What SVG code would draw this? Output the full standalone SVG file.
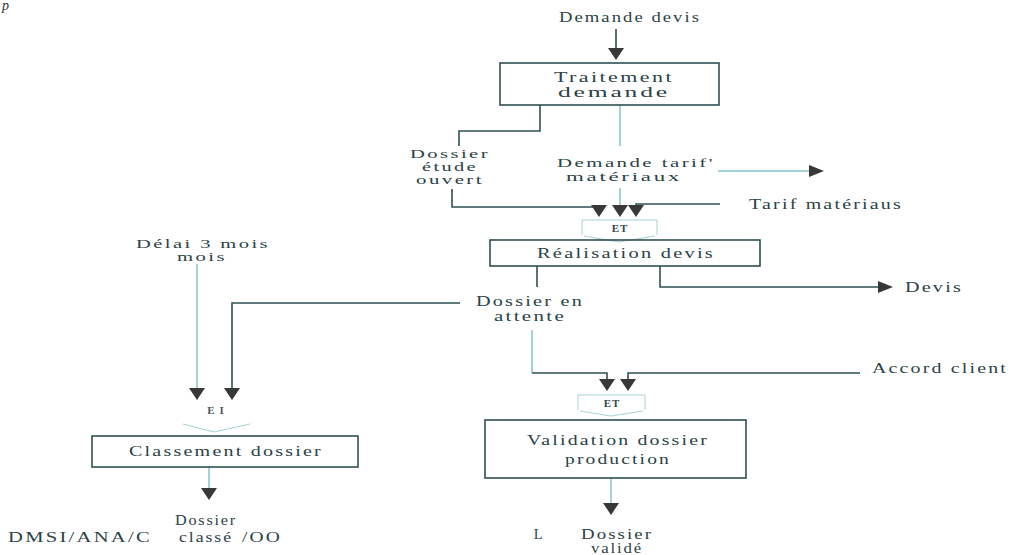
<svg xmlns="http://www.w3.org/2000/svg" width="1012" height="555" viewBox="0 0 1012 555">
  <style>
    .t { font-family: "Liberation Serif", "Times New Roman", serif; font-size: 14.5px; letter-spacing: 1.6px; fill: #2a4246; text-anchor: middle; }
    .s { font-size: 13.5px; }
    .box { fill: none; stroke: #2f5052; stroke-width: 1.6; }
    .et { fill: none; stroke: #a9d0d3; stroke-width: 1; }
    .etl { font-family: "Liberation Serif", serif; font-size: 11px; font-weight: bold; fill: #33484c; text-anchor: middle; letter-spacing: 1px; }
    .ln { fill: none; stroke: #2f5052; stroke-width: 1.6; }
    .lt { fill: none; stroke: #86c4c7; stroke-width: 1.5; }
    .ah { fill: #383838; }
  </style>
  <defs>
    <path id="arrowDown" d="M-8,-12 L8,-12 L0,0 Z" class="ah"/>
    <path id="arrowRight" d="M-15,-6 L0,0 L-15,6 Z" class="ah"/>
  </defs>

  <text x="2" y="10" style="font-family:'Liberation Serif',serif;font-size:14px;font-style:italic;fill:#333">p</text>

  <g id="connectors">
    <!-- Demande devis to Traitement demande -->
    <line class="ln" x1="616" y1="29" x2="616" y2="48"/>
    <use href="#arrowDown" x="616" y="60"/>
    <!-- Traitement demande outputs -->
    <polyline class="ln" points="540,105 540,131 459,131 459,146"/>
    <line class="lt" x1="620" y1="105" x2="620" y2="146"/>
    <!-- Dossier étude ouvert into ET -->
    <polyline class="ln" points="452,189 452,207 599,207"/>
    <use href="#arrowDown" x="599" y="217"/>
    <!-- Demande tarif matériaux into ET -->
    <line class="lt" x1="620" y1="188" x2="620" y2="206"/>
    <use href="#arrowDown" x="620" y="217"/>
    <!-- Demande tarif matériaux outward -->
    <line class="lt" x1="718" y1="171" x2="810" y2="171"/>
    <use href="#arrowRight" x="824" y="171"/>
    <!-- Tarif matériaux into ET -->
    <polyline class="ln" points="720,204 636,204 636,206"/>
    <use href="#arrowDown" x="636" y="217"/>
    <!-- Réalisation devis outputs -->
    <line class="ln" x1="537" y1="266" x2="537" y2="287"/>
    <polyline class="ln" points="660,266 660,287 880,287"/>
    <use href="#arrowRight" x="893" y="287"/>
    <!-- Dossier en attente into ET (validation) -->
    <polyline class="lt" points="532,330 532,373"/>
    <polyline class="ln" points="532,373 607,373 607,380"/>
    <use href="#arrowDown" x="607" y="391"/>
    <!-- Accord client into ET (validation) -->
    <polyline class="ln" points="860,373 628,373 628,380"/>
    <use href="#arrowDown" x="628" y="391"/>
    <!-- Dossier en attente into classement -->
    <polyline class="ln" points="460,303 232,303 232,388"/>
    <use href="#arrowDown" x="232" y="400"/>
    <!-- Délai 3 mois into classement -->
    <line class="lt" x1="197" y1="264" x2="197" y2="388"/>
    <use href="#arrowDown" x="197" y="400"/>
    <!-- Classement dossier output -->
    <line class="lt" x1="209" y1="467" x2="209" y2="488"/>
    <use href="#arrowDown" x="209" y="500"/>
    <!-- Validation dossier production output -->
    <line class="lt" x1="611" y1="479" x2="611" y2="503"/>
    <use href="#arrowDown" x="611" y="515"/>
  </g>

  <g id="demande-devis">
    <text class="t" x="630" y="22" textLength="142" lengthAdjust="spacingAndGlyphs">Demande devis</text>
  </g>

  <g id="traitement-demande">
    <rect class="box" x="500" y="63" width="219" height="42"/>
    <text class="t" x="614" y="82" textLength="120" lengthAdjust="spacingAndGlyphs">Traitement</text>
    <text class="t" x="614" y="97" textLength="112" lengthAdjust="spacingAndGlyphs">demande</text>
  </g>

  <g id="dossier-etude">
    <text class="t s" x="450" y="158" textLength="80" lengthAdjust="spacingAndGlyphs">Dossier</text>
    <text class="t s" x="450" y="171" textLength="56" lengthAdjust="spacingAndGlyphs">étude</text>
    <text class="t s" x="450" y="184" textLength="68" lengthAdjust="spacingAndGlyphs">ouvert</text>
  </g>

  <g id="demande-tarif">
    <text class="t s" x="636" y="167" textLength="158" lengthAdjust="spacingAndGlyphs">Demande tarif'</text>
    <text class="t s" x="624" y="181" textLength="116" lengthAdjust="spacingAndGlyphs">matériaux</text>
  </g>

  <g id="tarif-materiaux">
    <text class="t" x="826" y="209" textLength="154" lengthAdjust="spacingAndGlyphs">Tarif matériaus</text>
  </g>

  <g id="et-1">
    <path class="et" d="M582,235 V220 H657 V235 M584,236 L619,242 L655,236"/>
    <text class="etl" x="620" y="232">ET</text>
  </g>

  <g id="realisation-devis">
    <rect class="box" x="490" y="240" width="270" height="26"/>
    <text class="t" x="626" y="258" textLength="178" lengthAdjust="spacingAndGlyphs">Réalisation devis</text>
  </g>

  <g id="devis">
    <text class="t" x="934" y="292" textLength="58" lengthAdjust="spacingAndGlyphs">Devis</text>
  </g>

  <g id="dossier-attente">
    <text class="t" x="530" y="306" textLength="108" lengthAdjust="spacingAndGlyphs">Dossier en</text>
    <text class="t" x="530" y="321" textLength="72" lengthAdjust="spacingAndGlyphs">attente</text>
  </g>

  <g id="delai">
    <text class="t s" x="203" y="248" textLength="134" lengthAdjust="spacingAndGlyphs">Délai 3 mois</text>
    <text class="t s" x="202" y="261" textLength="50" lengthAdjust="spacingAndGlyphs">mois</text>
  </g>

  <g id="accord-client">
    <text class="t" x="940" y="373" textLength="136" lengthAdjust="spacingAndGlyphs">Accord client</text>
  </g>

  <g id="et-2">
    <path class="et" d="M578,410 V395 H645 V410 M580,411 L611,416 L643,411"/>
    <text class="etl" x="612" y="407">ET</text>
  </g>

  <g id="validation">
    <rect class="box" x="485" y="420" width="261" height="58"/>
    <text class="t" x="618" y="445" textLength="182" lengthAdjust="spacingAndGlyphs">Validation dossier</text>
    <text class="t" x="618" y="464" textLength="106" lengthAdjust="spacingAndGlyphs">production</text>
  </g>

  <g id="et-3">
    <path class="et" d="M183,424 L214,432 L250,424"/>
    <text class="etl" x="216" y="414" style="fill:#4a5a5e">E I</text>
  </g>

  <g id="classement">
    <rect class="box" x="92" y="436" width="266" height="31"/>
    <text class="t" x="226" y="456" textLength="194" lengthAdjust="spacingAndGlyphs">Classement dossier</text>
  </g>

  <g id="dossier-classe">
    <text class="t" x="206" y="525" textLength="62" lengthAdjust="spacingAndGlyphs">Dossier</text>
    <text class="t" x="80" y="542" textLength="144" lengthAdjust="spacingAndGlyphs">DMSI/ANA/C</text>
    <text class="t" x="206" y="542" textLength="54" lengthAdjust="spacingAndGlyphs">classé</text>
    <text class="t" x="262" y="542" textLength="40" lengthAdjust="spacingAndGlyphs">/OO</text>
  </g>

  <g id="dossier-valide">
    <text class="t" x="539" y="539">L</text>
    <text class="t" x="617" y="539" textLength="72" lengthAdjust="spacingAndGlyphs">Dossier</text>
    <text class="t" x="617" y="553" textLength="52" lengthAdjust="spacingAndGlyphs">validé</text>
  </g>
</svg>
